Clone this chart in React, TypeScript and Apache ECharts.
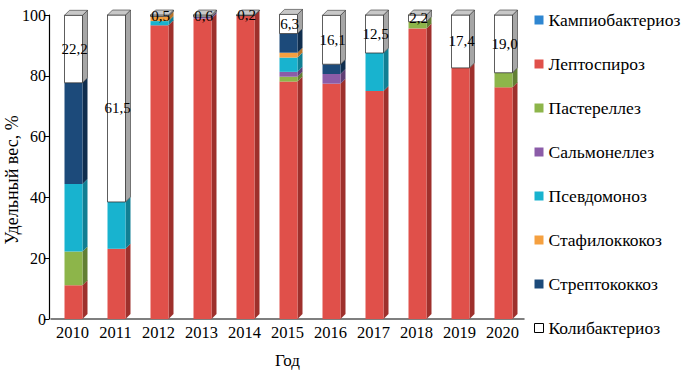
import React, { useEffect, useRef } from "react";
import * as echarts from "echarts";

const years = ["2010", "2011", "2012", "2013", "2014", "2015", "2016", "2017", "2018", "2019", "2020"];
const seriesNames = ["Кампиобактериоз", "Лептоспироз", "Пастереллез", "Сальмонеллез", "Псевдомоноз", "Стафилоккокоз", "Стрептококкоз", "Колибактериоз"];
const campio = [0, 0, 0, 0, 0, 0, 0, 0, 0, 0, 0];
const lepto = [11.1, 23.1, 96.6, 98.8, 99.8, 78.1, 77.4, 75.0, 95.6, 82.6, 76.2];
const paster = [11.1, 0, 0, 0, 0, 1.6, 0, 0, 2.2, 0, 4.8];
const salmon = [0, 0, 0, 0.6, 0, 1.6, 3.2, 0, 0, 0, 0];
const pseudo = [22.2, 15.4, 1.4, 0, 0, 4.7, 0, 12.5, 0, 0, 0];
const staph = [0, 0, 1.5, 0, 0, 1.6, 0, 0, 0, 0, 0];
const strepto = [33.3, 0, 0, 0, 0, 6.3, 3.2, 0, 0, 0, 0];
const coli = [22.2, 61.5, 0.5, 0.6, 0.2, 6.3, 16.1, 12.5, 2.2, 17.4, 19.0];
const yTicks = [0, 20, 40, 60, 80, 100];

const allSeries = [campio, lepto, paster, salmon, pseudo, staph, strepto, coli];
const fronts = ["#2e86d1", "#e0504a", "#8db54a", "#8b5ca8", "#18b3cf", "#f5a040", "#1c4a7a", "#ffffff"];
const sides = ["#1f5e95", "#9e302c", "#627f33", "#5f3e74", "#117f93", "#b8742b", "#102e4e", "#a6a6a6"];
const FONT = "Liberation Serif";

export default function App() {
  const ref = useRef<HTMLDivElement>(null);
  useEffect(() => {
    if (!ref.current) return;
    const chart = echarts.init(ref.current, null, { renderer: "svg" });
    const W = 18, DX = 5, DY = 5;
    const series = allSeries.map((vals, si) => {
      const data = vals.map((v, ci) => {
        let base = 0;
        for (let k = 0; k < si; k++) base += allSeries[k][ci];
        return [ci, base, base + v, v, si === allSeries.length - 1 ? 1 : 0];
      });
      return {
        type: "custom",
        name: seriesNames[si],
        itemStyle: { color: fronts[si], borderColor: si === 7 ? "#000" : fronts[si] },
        data,
        renderItem: (params: any, api: any) => {
          const ci = api.value(0), b = api.value(1), t = api.value(2), v = api.value(3), isTop = api.value(4);
          if (v <= 0) return null;
          const p0 = api.coord([ci, b]);
          const p1 = api.coord([ci, t]);
          const x = p0[0] - W / 2 + 1;
          const yb = p0[1], yt = p1[1];
          const children: any[] = [
            {
              type: "polygon",
              shape: { points: [[x + W, yt], [x + W + DX, yt - DY], [x + W + DX, yb - DY], [x + W, yb]] },
              style: { fill: sides[si], stroke: si === 7 ? "#333" : null, lineWidth: 0.6 },
            },
            {
              type: "rect",
              shape: { x, y: yt, width: W, height: yb - yt },
              style: { fill: fronts[si], stroke: si === 7 ? "#333" : null, lineWidth: 0.8 },
            },
          ];
          if (isTop) {
            children.push({
              type: "polygon",
              shape: { points: [[x, yt], [x + DX, yt - DY], [x + W + DX, yt - DY], [x + W, yt]] },
              style: { fill: "#c8c8c8", stroke: "#333", lineWidth: 0.6 },
            });
            children.push({
              type: "text",
              style: {
                text: v.toFixed(1).replace(".", ","),
                x: x + W / 2 + 1,
                y: (yt + yb) / 2,
                align: "center",
                verticalAlign: "middle",
                fontFamily: FONT,
                fontSize: 15,
                fill: "#000",
              },
            });
          }
          return { type: "group", children };
        },
      };
    });
    chart.setOption({
      animation: false,
      grid: { left: 51, top: 15, width: 473, height: 312 },
      graphic: [
        {
          type: "text",
          x: 12,
          y: 180,
          rotation: Math.PI / 2,
          style: {
            text: "Удельный вес, %",
            align: "center",
            verticalAlign: "middle",
            fontFamily: FONT,
            fontSize: 18,
            fill: "#000",
          },
        },
      ],
      legend: {
        orient: "vertical",
        left: 534,
        top: 11,
        padding: 0,
        itemWidth: 9,
        itemHeight: 9,
        itemGap: 26,
        icon: "rect",
        textStyle: { fontFamily: FONT, fontSize: 17.5, color: "#000" },
        data: seriesNames.map((n, i) => ({
          name: n,
          itemStyle: i === 7 ? { color: "#fff", borderColor: "#000", borderWidth: 1 } : { color: fronts[i] },
        })),
      },
      xAxis: {
        type: "category",
        data: years,
        name: "Год",
        nameLocation: "middle",
        nameGap: 33,
        nameTextStyle: { fontFamily: FONT, fontSize: 17, color: "#000" },
        axisLine: { lineStyle: { color: "#555", width: 1.5 } },
        axisTick: { show: false },
        axisLabel: { fontFamily: FONT, fontSize: 16.5, color: "#000", margin: 5, interval: 0, hideOverlap: false },
      },
      yAxis: {
        type: "value",
        min: 0,
        max: 100,
        interval: 20,
        offset: 2,
        axisLine: { show: true, lineStyle: { color: "#000", width: 1.2 } },
        axisTick: { show: true, inside: false, length: 5, lineStyle: { color: "#000" } },
        splitLine: { show: false },
        axisLabel: {
          fontFamily: FONT,
          fontSize: 16,
          color: "#000",
          margin: 3,
          formatter: (v: number) => (yTicks.includes(v) ? String(v) : ""),
        },
      },
      series,
    });
    return () => chart.dispose();
  }, []);
  return <div ref={ref} style={{ width: 697, height: 374, position: "absolute", left: 0, top: 0 }} />;
}
